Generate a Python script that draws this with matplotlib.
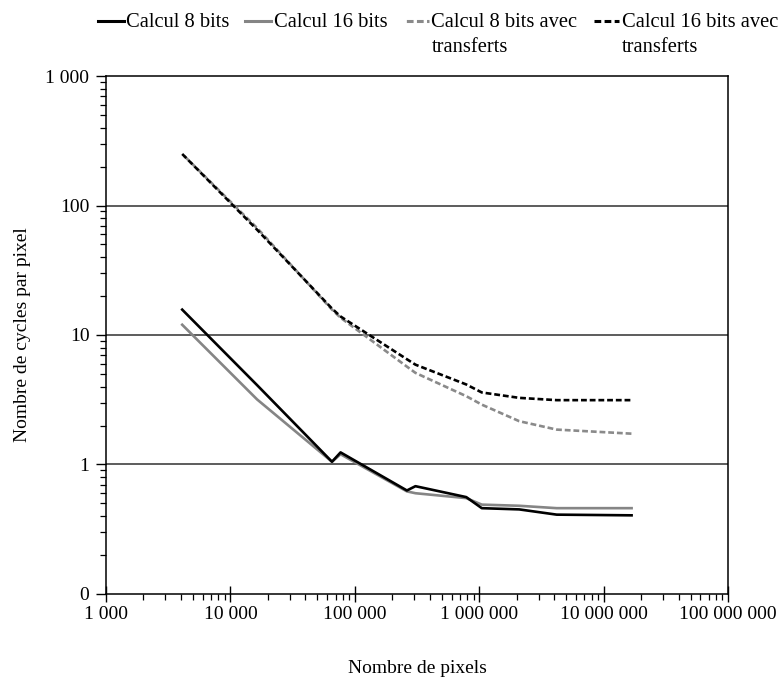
import matplotlib
matplotlib.use("Agg")
import matplotlib.pyplot as plt
from matplotlib.ticker import FixedLocator, LogLocator, NullFormatter, FuncFormatter

# Image sizes (pixels) and cycles per pixel
pixels = [4096, 16384, 65536, 76800, 262144, 307200, 786432,
          1048576, 2097152, 4194304, 16777216]
calc_8 = [15.7, 4.1, 1.05, 1.24, 0.63, 0.68, 0.56, 0.46, 0.45, 0.41, 0.405]
calc_16 = [12.0, 3.18, 1.05, 1.2, 0.62, 0.6, 0.55, 0.49, 0.48, 0.46, 0.46]
calc_8_tr = [250, 67, 15.7, 13.6, 5.7, 5.1, 3.37, 2.9, 2.16, 1.86, 1.73]
calc_16_tr = [250, 65, 16.0, 13.9, 6.5, 5.9, 4.15, 3.6, 3.27, 3.14, 3.14]

labels = ["Calcul 8 bits", "Calcul 16 bits",
          "Calcul 8 bits avec\ntransferts", "Calcul 16 bits avec\ntransferts"]
x_label = "Nombre de pixels"
y_label = "Nombre de cycles par pixel"


def fmt_thousands(v, pos=None):
    if v < 1:
        return "0"
    return f"{int(round(v)):,}".replace(",", " ")


plt.rcParams["font.family"] = ["Liberation Serif", "DejaVu Serif"]
plt.rcParams["font.size"] = 14

fig = plt.figure(figsize=(7.83, 6.78), dpi=100)
ax = fig.add_axes([0.1354, 0.1239, 0.7944, 0.7640])

dash_on, dash_off = 2.2, 1.1
ax.plot(pixels, calc_8, color="black", lw=1.9, label=labels[0], zorder=4)
ax.plot(pixels, calc_16, color="#858585", lw=1.9, label=labels[1], zorder=3)
# the two dashed series are phase-shifted so both stay visible where they overlap
ax.plot(pixels, calc_8_tr, color="#8a8a8a", lw=1.9,
        ls=(dash_on, (dash_on, dash_off)), label=labels[2], zorder=3)
ax.plot(pixels, calc_16_tr, color="black", lw=1.9,
        ls=(0, (dash_on, dash_off)), label=labels[3], zorder=4)

ax.set_xscale("log")
ax.set_yscale("log")
ax.set_xlim(1e3, 1e8)
ax.set_ylim(0.1, 1000)

ax.xaxis.set_major_locator(FixedLocator([1e3, 1e4, 1e5, 1e6, 1e7, 1e8]))
ax.yaxis.set_major_locator(FixedLocator([0.1, 1, 10, 100, 1000]))
ax.xaxis.set_minor_locator(LogLocator(base=10, subs=range(2, 10), numticks=20))
ax.yaxis.set_minor_locator(LogLocator(base=10, subs=range(2, 10), numticks=20))
ax.xaxis.set_major_formatter(FuncFormatter(fmt_thousands))
ax.yaxis.set_major_formatter(FuncFormatter(fmt_thousands))
ax.xaxis.set_minor_formatter(NullFormatter())
ax.yaxis.set_minor_formatter(NullFormatter())

ax.tick_params(axis="x", which="major", direction="inout", length=12,
               width=1.0, pad=3, labelsize=14)
ax.tick_params(axis="y", which="major", direction="out", length=7,
               width=1.0, pad=5, labelsize=14)
ax.tick_params(which="minor", direction="out", length=4, width=0.9)

for y in [1, 10, 100]:
    ax.axhline(y, color="#303030", lw=1.1, zorder=1)

for s in ax.spines.values():
    s.set_color("black")
    s.set_linewidth(1.1)

ax.set_xlabel(x_label, fontsize=14, labelpad=26)
ax.set_ylabel(y_label, fontsize=14, labelpad=10)

leg = fig.legend(loc="upper left", bbox_to_anchor=(0.108, 1.0), ncol=4,
                 frameon=False, fontsize=14.8, handlelength=1.25,
                 handletextpad=0.12, columnspacing=0.78, borderaxespad=0.25,
                 labelspacing=0.2)
# align each legend handle with the first line of its label
box = leg._legend_handle_box
box.align = "top"
for column in box.get_children():
    for item in column.get_children():
        item.align = "top"
for text in leg.get_texts():
    text.set_linespacing(1.4)
for line in leg.get_lines():
    line.set_linewidth(2.2)

fig.savefig("out.png", dpi=100)
